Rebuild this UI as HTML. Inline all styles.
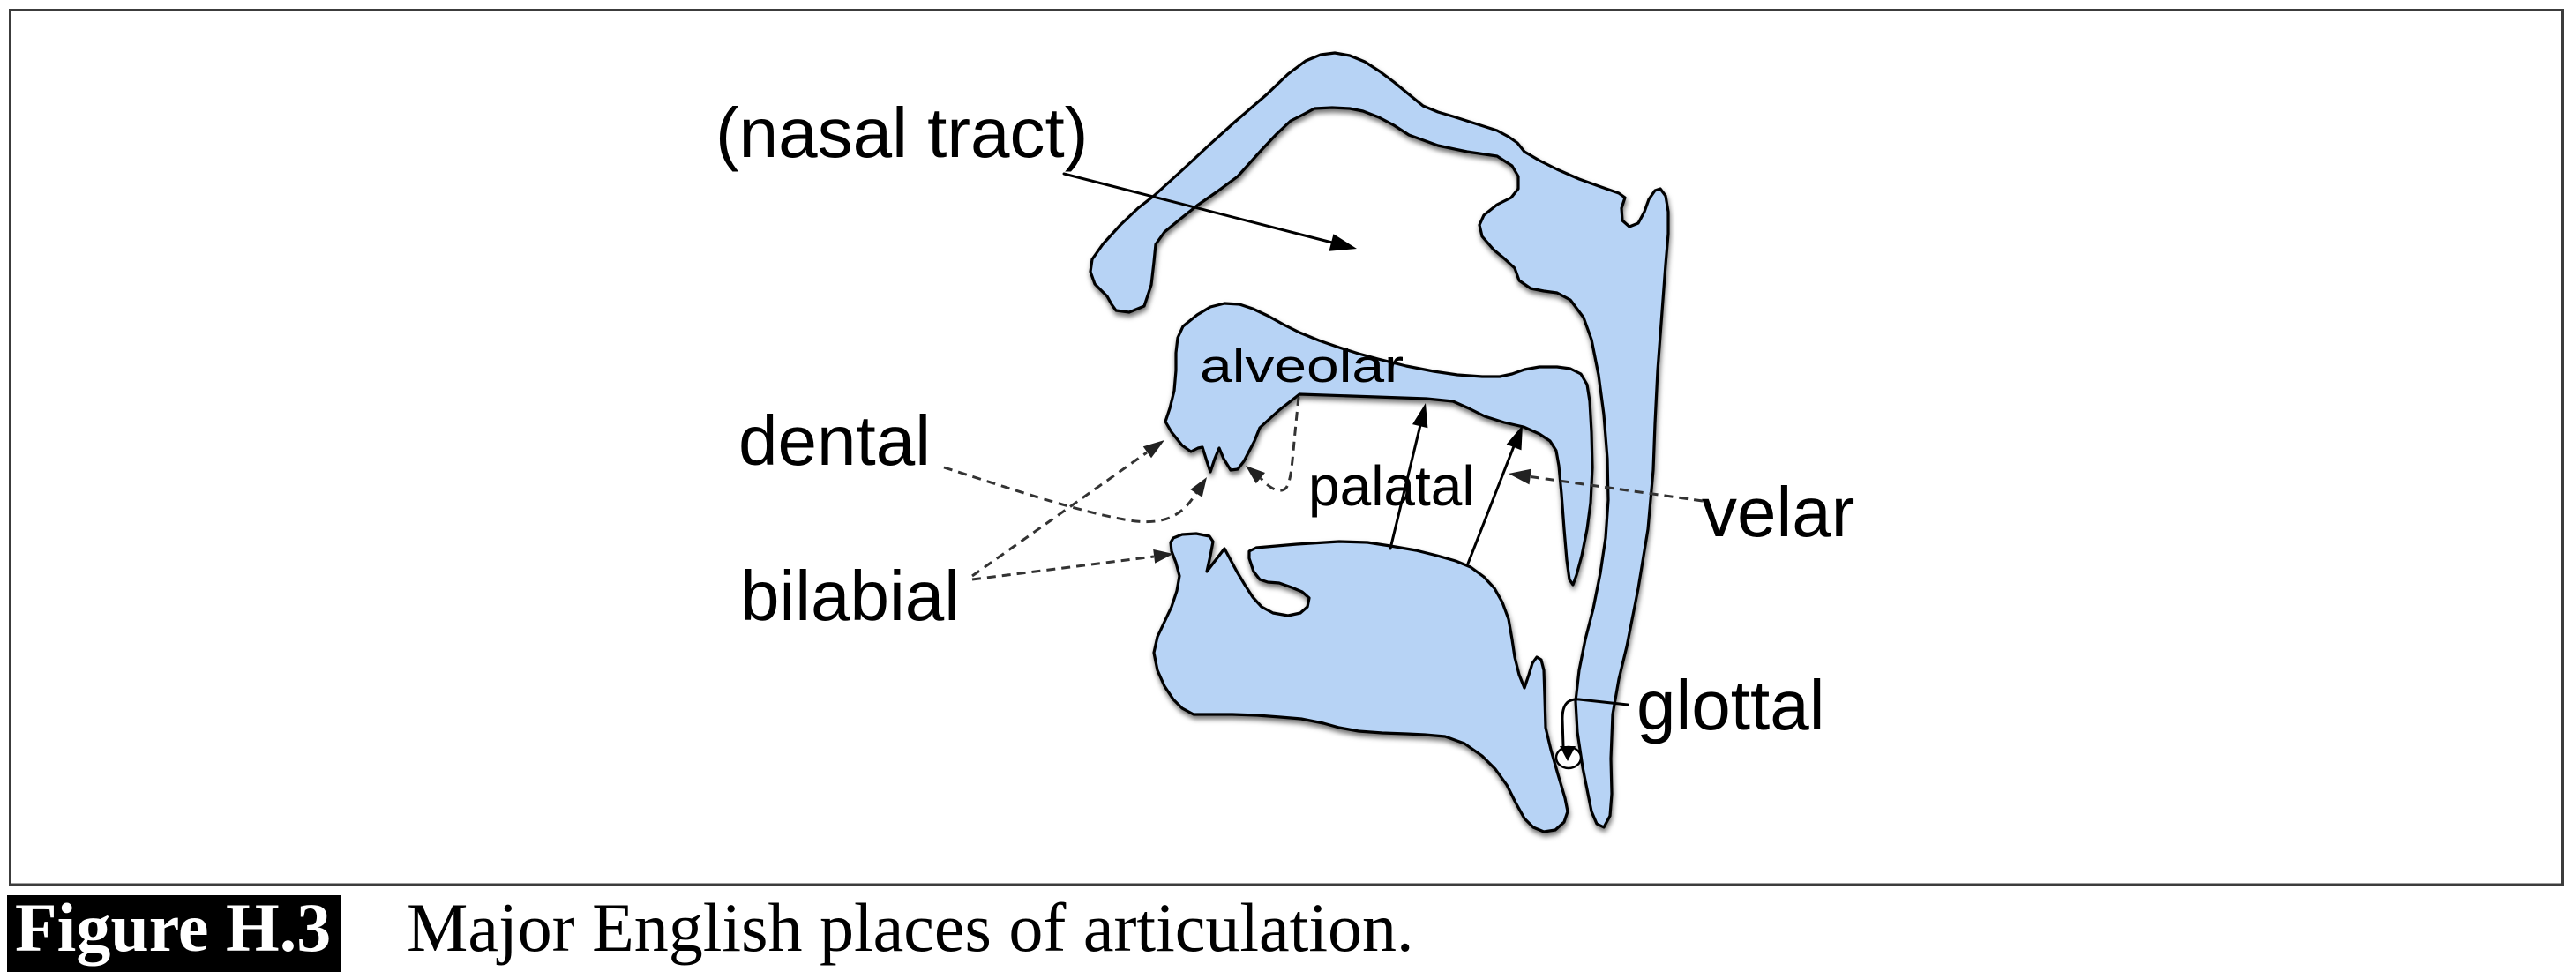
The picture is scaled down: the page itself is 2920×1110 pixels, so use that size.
<!DOCTYPE html>
<html>
<head>
<meta charset="utf-8">
<style>
html,body{margin:0;padding:0;background:#fff;}
svg{display:block;}
.lbl{font-family:"Liberation Sans",Arial,sans-serif;fill:#000;}
.cap{font-family:"Liberation Serif","Times New Roman",serif;}
</style>
</head>
<body>
<svg width="2920" height="1110" viewBox="0 0 2920 1110" xmlns="http://www.w3.org/2000/svg">
<defs>
<filter id="sh" x="-10%" y="-10%" width="120%" height="120%">
<feDropShadow dx="1" dy="4" stdDeviation="3" flood-color="#000" flood-opacity="0.55"/>
</filter>
</defs>
<rect x="0" y="0" width="2920" height="1110" fill="#fff"/>
<rect x="11.5" y="11.5" width="2893" height="991.5" fill="none" stroke="#3c3c3c" stroke-width="3"/>

<g fill="#b7d3f5" stroke="#000" stroke-width="3.2" stroke-linejoin="round" filter="url(#sh)">
<!-- nasal + pharynx -->
<path d="M1280,354 L1265,352 L1260,345 L1255,336 L1241,322 L1236,308 L1238,294 L1250,277 L1270,255 L1290,236 L1308,222 L1340,193 L1370,165 L1400,138 L1436,107 L1460,84 L1480,69 L1497,62 L1513,60 L1530,63 L1547,70 L1564,81 L1580,93 L1597,107 L1613,120 L1630,127 L1647,132 L1672,140 L1697,148 L1710,155 L1720,162 L1728,172 L1745,182 L1765,192 L1790,203 L1815,212 L1835,219 L1842,224 L1838,236 L1839,250 L1847,257 L1857,253 L1864,240 L1869,226 L1876,216 L1882,214 L1888,222 L1891,240 L1891,265 L1888,300 L1885,340 L1882,380 L1879,420 L1876,480 L1874,533 L1868,600 L1857,667 L1844,733 L1835,770 L1828,810 L1826,860 L1827,900 L1825,925 L1818,938 L1810,934 L1804,920 L1800,900 L1794,870 L1788,830 L1786,795 L1790,760 L1797,725 L1806,690 L1814,650 L1820,610 L1823,567 L1822,520 L1818,470 L1812,425 L1804,385 L1795,360 L1780,340 L1765,332 L1750,330 L1735,327 L1722,318 L1717,304 L1705,293 L1693,283 L1680,268 L1677,255 L1682,244 L1697,232 L1713,224 L1721,214 L1721,200 L1714,188 L1697,177 L1663,172 L1630,165 L1597,153 L1580,142 L1563,133 L1545,126 L1530,123 L1510,122 L1490,123 L1475,131 L1463,137 L1447,152 L1430,170 L1403,200 L1380,217 L1357,233 L1337,249 L1320,263 L1310,277 L1308,297 L1305,323 L1297,347 Z"/>
<!-- upper palate / velum -->
<path d="M1333,400 L1335,383 L1341,370 L1357,357 L1372,348 L1388,344 L1405,345 L1420,350 L1437,358 L1455,368 L1473,377 L1495,386 L1518,394 L1540,401 L1562,407 L1594,415 L1625,421 L1652,425 L1680,427 L1700,427 L1714,424 L1728,419 L1745,416 L1765,416 L1780,418 L1792,424 L1799,436 L1802,455 L1804,490 L1805,530 L1803,570 L1799,600 L1793,630 L1787,652 L1783,663 L1779,657 L1776,635 L1773,600 L1770,560 L1767,528 L1764,511 L1757,500 L1745,492 L1727,484 L1705,479 L1683,472 L1665,463 L1647,455 L1617,452 L1560,450 L1473,447 L1450,465 L1428,485 L1422,500 L1410,523 L1403,532 L1395,533 L1387,520 L1382,508 L1377,520 L1372,535 L1368,523 L1363,507 L1358,508 L1350,512 L1340,505 L1328,490 L1321,478 L1326,463 L1331,443 L1333,420 Z"/>
<!-- lower jaw / tongue -->
<path d="M1330,610 L1340,606 L1356,605 L1371,608 L1375,614 L1372,630 L1368,648 L1378,635 L1388,622 L1395,635 L1402,648 L1411,663 L1420,677 L1430,688 L1443,695 L1460,698 L1474,695 L1482,688 L1484,678 L1476,671 L1464,666 L1450,661 L1437,660 L1428,657 L1421,648 L1416,633 L1416,625 L1424,621 L1470,617 L1518,614 L1550,615 L1576,619 L1605,624 L1629,630 L1650,636 L1667,643 L1682,654 L1694,667 L1703,683 L1710,702 L1714,725 L1717,745 L1722,765 L1728,780 L1733,765 L1737,752 L1742,745 L1747,748 L1750,760 L1751,790 L1752,825 L1758,850 L1766,878 L1774,905 L1777,920 L1773,932 L1763,941 L1750,943 L1738,938 L1728,928 L1718,910 L1708,890 L1695,872 L1680,857 L1660,843 L1638,835 L1615,833 L1594,832 L1567,831 L1540,829 L1518,825 L1500,820 L1475,815 L1451,813 L1425,811 L1397,810 L1375,810 L1353,810 L1340,803 L1330,793 L1320,778 L1312,760 L1308,740 L1312,722 L1320,705 L1328,688 L1334,670 L1337,653 L1333,638 L1328,625 L1327,615 Z"/>
</g>

<!-- solid arrows -->
<g stroke="#000" stroke-width="3" fill="none" stroke-linecap="round">
<line x1="1206" y1="197" x2="1510" y2="275"/>
<line x1="1576" y1="622" x2="1610" y2="482"/>
<line x1="1664" y1="639" x2="1716" y2="506"/>
<path d="M1845,799 L1790,793 C1776,792 1771,800 1771,815 L1772,846"/>
</g>
<g fill="#000">
<polygon points="1538,282 1506.5,284.7 1511.5,265.3"/>
<polygon points="1616,457 1618.4,485.3 1601,481.1"/>
<polygon points="1726,482 1724.5,510.4 1707.7,503.8"/>
</g>
<ellipse cx="1778" cy="859" rx="14" ry="12" fill="#fff" stroke="#000" stroke-width="2.5"/>
<polygon points="1768,846 1786,846 1777,863" fill="#000"/>

<!-- dashed arrows -->
<g stroke="#333" stroke-width="3" fill="none" stroke-dasharray="10 7">
<line x1="1930" y1="568" x2="1735" y2="540.5"/>
<path d="M1070,530 C1140,552 1220,580 1280,590 C1320,596 1340,585 1356,559"/>
<line x1="1102" y1="653" x2="1300" y2="513"/>
<line x1="1102" y1="657" x2="1308" y2="631"/>
<path d="M1472,450 L1468,490 C1465,520 1464,545 1458,553 C1452,560 1440,555 1429,542"/>
</g>
<g fill="#222">
<polygon points="1710,537 1736,531.6 1733.5,549.4"/>
<polygon points="1368,541 1362.7,563.8 1349.3,555"/>
<polygon points="1320,499 1305,519.3 1295.8,506.3"/>
<polygon points="1330,628 1309.2,638.7 1307.2,622.9"/>
<polygon points="1412,528 1434,536 1423.8,548.2"/>
</g>

<!-- labels -->
<text class="lbl" x="811" y="178" font-size="80">(nasal tract)</text>
<text class="lbl" x="837" y="527" font-size="80">dental</text>
<text class="lbl" x="839" y="703" font-size="80">bilabial</text>
<text class="lbl" x="1929" y="608" font-size="80">velar</text>
<text class="lbl" x="1855" y="827" font-size="80">glottal</text>
<text class="lbl" x="1483" y="573" font-size="64">palatal</text>
<text class="lbl" transform="translate(1360,433) scale(1,0.8)" x="0" y="0" font-size="66">alveolar</text>

<!-- caption -->
<rect x="8" y="1015" width="378" height="87" fill="#000"/>
<text class="cap" x="17" y="1078" font-size="78" font-weight="bold" fill="#fff">Figure H.3</text>
<text class="cap" x="461" y="1078" font-size="78" fill="#000">Major English places of articulation.</text>
</svg>
</body>
</html>
